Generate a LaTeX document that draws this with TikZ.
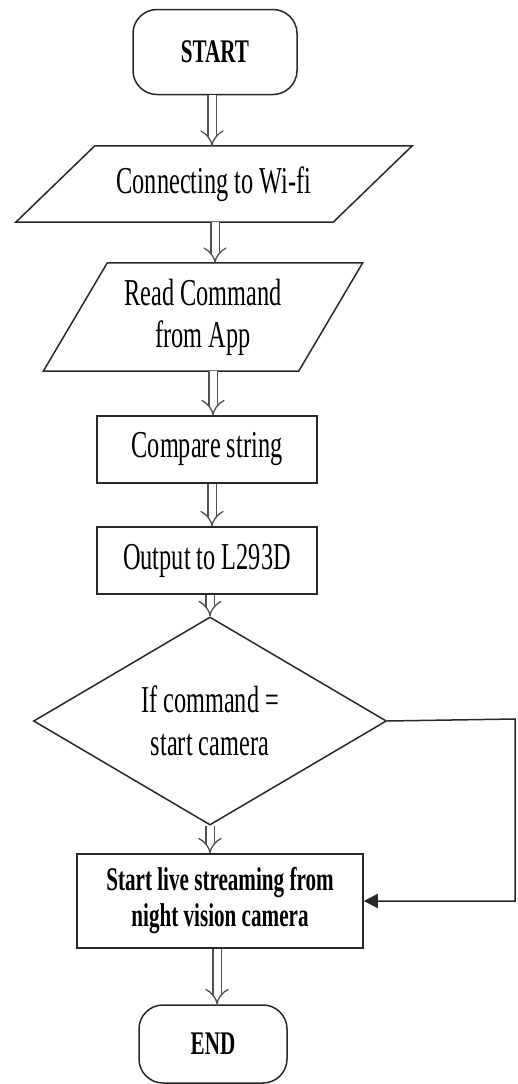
\documentclass[tikz,border=0pt]{standalone}
\usepackage{fontspec}
\setmainfont[FakeStretch=0.64]{Liberation Serif}
\usetikzlibrary{arrows.meta,positioning,calc,shapes.geometric}
\definecolor{fcline}{RGB}{40,40,40}
\definecolor{fcarrow}{RGB}{80,80,80}
\tikzset{
  fcterm/.style={draw=fcline, line width=1.5pt, rounded corners=24pt, align=center,
    inner sep=0pt, font=\fontsize{33}{36}\selectfont\bfseries},
  fcio/.style={inner sep=0pt, align=center, font=\fontsize{38}{42}\selectfont},
  fcproc/.style={draw=fcline, line width=1.5pt, inner sep=0pt, align=center,
    font=\fontsize{38}{42}\selectfont},
  fcdec/.style={diamond, draw=fcline, line width=1.5pt, inner sep=0pt, align=center,
    font=\fontsize{38}{43}\selectfont},
  fcslant/.style={draw=fcline, line width=1.5pt, line join=miter},
  fcarr/.style={draw=fcarrow, double=white, line width=1.3pt, double distance=7pt, -{Implies}},
  fcback/.style={draw=fcline, line width=1.5pt, -{Triangle[length=14pt,width=14pt]}}
}
\begin{document}
\begin{tikzpicture}[x=1pt,y=-1pt]
  \useasboundingbox (0,0) rectangle (517,1084);
  \node[fcterm, minimum width=164pt, minimum height=85pt] (start) at (215,52) {START};
  \node[fcio, minimum width=317pt, minimum height=76pt] (wifi) at (214,184) {Connecting to Wi-fi};
  \draw[fcslant] ($(wifi.south west)+(-39.5,0)$) -- ($(wifi.north west)+(39.5,0)$)
    -- ($(wifi.north east)+(39.5,0)$) -- ($(wifi.south east)+(-39.5,0)$) -- cycle;
  \node[fcio, minimum width=255pt, minimum height=108pt] (readcmd) at (203,317) {Read Command\\from App};
  \draw[fcslant] ($(readcmd.south west)+(-32,0)$) -- ($(readcmd.north west)+(32,0)$)
    -- ($(readcmd.north east)+(32,0)$) -- ($(readcmd.south east)+(-32,0)$) -- cycle;
  \node[fcproc, minimum width=220pt, minimum height=67pt] (cmpstr) at (207,449.5) {Compare string};
  \node[fcproc, minimum width=220pt, minimum height=67pt] (outl293) at (207,560.5) {Output to L293D};
  \node[fcdec, minimum width=353pt, minimum height=194pt] (ifcam) at (210,721) {If command =\\start camera};
  \node[fcproc, minimum width=286pt, minimum height=94pt, font=\fontsize{33}{36}\selectfont\bfseries]
    (live) at (220,901) {Start live streaming from\\night vision camera};
  \node[fcterm, minimum width=148pt, minimum height=78pt] (stop) at (213,1044) {END};
  \coordinate (fbturn) at (515,719);

  \draw[fcarr] ([xshift=-3pt]start.south) -- ([xshift=-3pt]start.south |- wifi.north);
  \draw[fcarr] ([xshift=1pt]wifi.south) -- ([xshift=1pt]wifi.south |- readcmd.north);
  \draw[fcarr] ([xshift=10pt]readcmd.south) -- ([xshift=10pt]readcmd.south |- cmpstr.north);
  \draw[fcarr] ([xshift=5pt]cmpstr.south) -- ([xshift=5pt]cmpstr.south |- outl293.north);
  \draw[fcarr] (outl293.south -| ifcam.north) -- (ifcam.north);
  \draw[fcarr] (ifcam.south) -- (ifcam.south |- live.north);
  \draw[fcarr] ([xshift=-3pt]live.south) -- ([xshift=-3pt]live.south |- stop.north);
  \draw[fcback] (ifcam.east) -- (fbturn) |- (live.east);
\end{tikzpicture}
\end{document}
